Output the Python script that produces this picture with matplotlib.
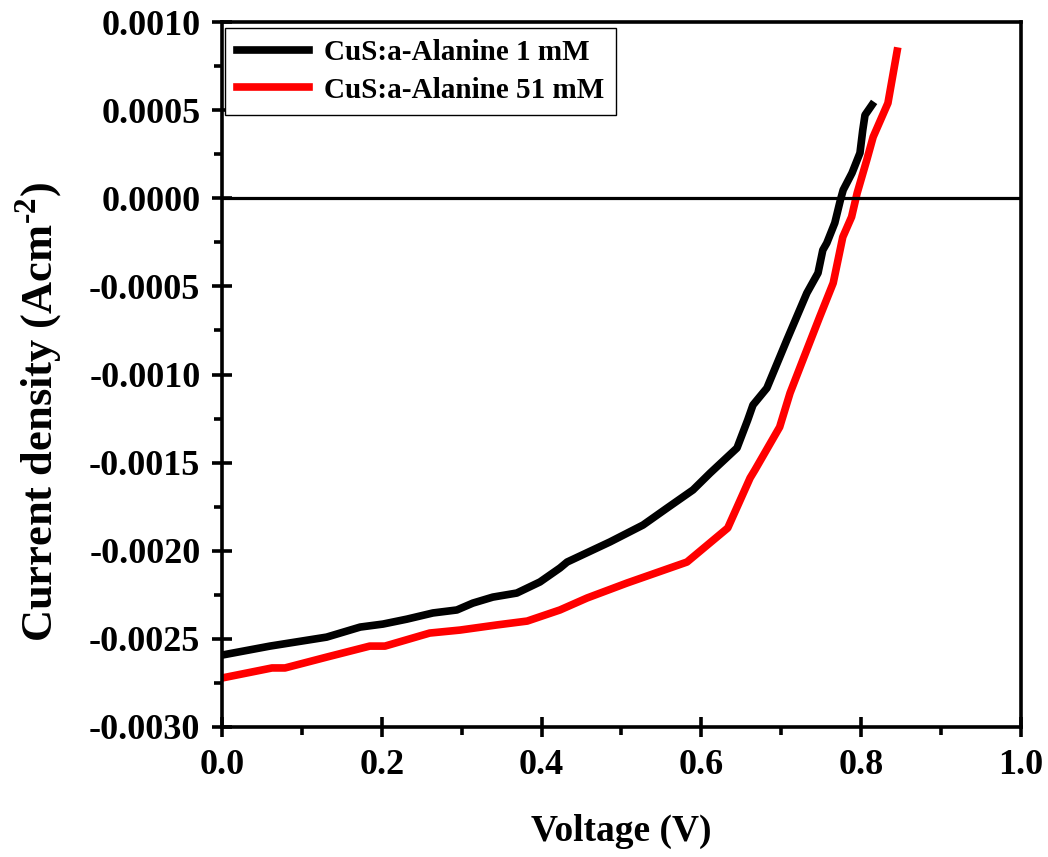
import matplotlib.pyplot as plt
from matplotlib.ticker import MultipleLocator, FormatStrFormatter

# J-V data for the two CuS:a-Alanine films
v_1mM = [0.0, 0.060, 0.131, 0.173, 0.2015, 0.2315, 0.264, 0.294, 0.314, 0.339,
         0.369, 0.398, 0.423, 0.432, 0.4856, 0.527, 0.557, 0.5895, 0.611, 0.6446,
         0.658, 0.6646, 0.682, 0.707, 0.732, 0.746, 0.752, 0.757, 0.767, 0.774,
         0.7775, 0.7885, 0.7985, 0.802, 0.8048, 0.8135]
j_1mM = [-0.002592, -0.002541, -0.00249, -0.002433, -0.002416, -0.002388, -0.002353,
         -0.002336, -0.002297, -0.002263, -0.00224, -0.002177, -0.002098, -0.002064,
         -0.00195, -0.001854, -0.001758, -0.001655, -0.001559, -0.001417,
         -0.001258, -0.001173, -0.001077, -0.000804, -0.000538, -0.000424,
         -0.000294, -0.000254, -0.00014, -0.00001, 0.000047, 0.000143, 0.000257,
         0.000387, 0.000472, 0.000529]

v_51mM = [0.0, 0.0626, 0.0789, 0.1314, 0.185, 0.204, 0.260, 0.298, 0.344, 0.382,
          0.423, 0.457, 0.507, 0.582, 0.633, 0.661, 0.667, 0.698, 0.711, 0.727,
          0.748, 0.765, 0.777, 0.788, 0.795, 0.807, 0.815, 0.8335, 0.845]
j_51mM = [-0.002722, -0.002665, -0.002665, -0.002603, -0.002541, -0.002541,
          -0.002467, -0.00245, -0.002421, -0.002399, -0.002336, -0.002268,
          -0.002183, -0.002064, -0.001871, -0.001587, -0.001542, -0.001298,
          -0.001105, -0.000918, -0.000674, -0.000481, -0.00022, -0.000106,
          0.00003, 0.000217, 0.000348, 0.00054, 0.000835]

plt.rcParams['font.family'] = 'Liberation Serif'
plt.rcParams['font.weight'] = 'bold'
plt.rcParams['axes.unicode_minus'] = False
plt.rcParams['mathtext.fontset'] = 'custom'
plt.rcParams['mathtext.rm'] = 'Liberation Serif:bold'
plt.rcParams['mathtext.bf'] = 'Liberation Serif:bold'

fig = plt.figure(figsize=(10.48, 8.57), dpi=100)
ax = fig.add_axes([0.2118, 0.1517, 0.7624, 0.8226])

ax.plot(v_1mM, j_1mM, color='black', lw=5.5, label='CuS:a-Alanine 1 mM')
ax.plot(v_51mM, j_51mM, color='red', lw=5.5, label='CuS:a-Alanine 51 mM')
ax.axhline(0, color='black', lw=2.3)

ax.set_xlim(0, 1.0)
ax.set_ylim(-0.0030, 0.0010)
ax.xaxis.set_major_locator(MultipleLocator(0.2))
ax.xaxis.set_minor_locator(MultipleLocator(0.1))
ax.yaxis.set_major_locator(MultipleLocator(0.0005))
ax.yaxis.set_minor_locator(MultipleLocator(0.00025))
ax.xaxis.set_major_formatter(FormatStrFormatter('%.1f'))
ax.yaxis.set_major_formatter(FormatStrFormatter('%.4f'))

for s in ax.spines.values():
    s.set_linewidth(2.6)
ax.tick_params(which='major', direction='inout', length=15, width=2.6,
               labelsize=26)
ax.tick_params(axis='x', which='major', pad=8)
ax.tick_params(axis='y', which='major', pad=8)
ax.tick_params(which='minor', direction='out', length=6, width=2.6)
ax.tick_params(top=False, right=False, which='both')

ax.set_xlabel('Voltage (V)', fontsize=27, fontweight='bold', labelpad=23)
ax.set_ylabel(r'Current density (Acm$^{\text{-2}}$)', fontsize=32,
              fontweight='bold')
ax.yaxis.set_label_coords(-0.197, 0.447)

leg = ax.legend(loc='upper left', bbox_to_anchor=(0.0, 0.996), fontsize=21,
                handlelength=2.5, fancybox=False, edgecolor='black',
                framealpha=1, borderaxespad=0.1, handletextpad=0.5,
                labelspacing=0.35)
leg.get_frame().set_linewidth(1.0)

fig.savefig('out.png', dpi=100)
